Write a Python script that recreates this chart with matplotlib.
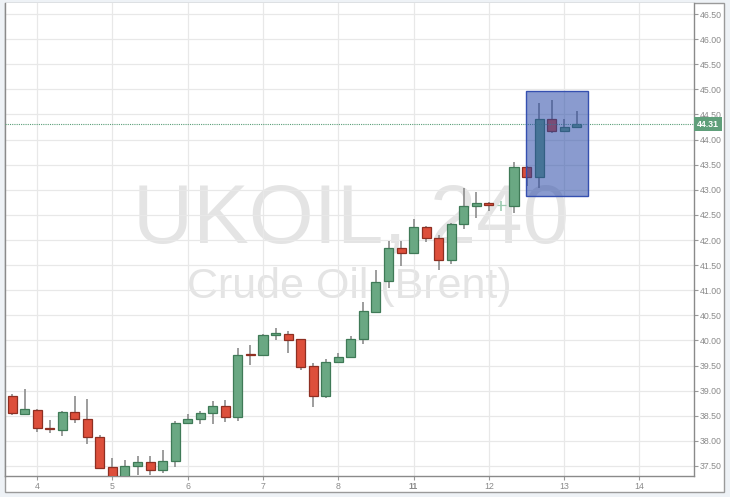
import matplotlib
matplotlib.use("Agg")
import matplotlib.pyplot as plt
import matplotlib.patches as mpatches
import matplotlib.transforms as mtrans
import numpy as np

# UKOIL 240-minute candles (index = candle number)
opens = [38.90, 38.53, 38.62, 38.25, 38.22, 38.57, 38.44, 38.07, 37.47, 37.28,
         37.49, 37.57, 37.42, 37.59, 38.36, 38.43, 38.55, 38.70, 38.47, 39.72,
         39.70, 40.10, 40.13, 40.02, 39.49, 38.89, 39.58, 39.66, 40.03, 40.57,
         41.18, 41.84, 41.75, 42.26, 42.03, 41.61, 42.32, 42.67, 42.73, 42.69,
         42.68, 43.46, 43.26, 44.40, 44.18, 44.26]
highs = [38.94, 39.03, 38.64, 38.41, 38.59, 38.89, 38.83, 38.11, 37.66, 37.62,
         37.69, 37.69, 37.81, 38.39, 38.53, 38.59, 38.80, 38.81, 39.84, 39.91,
         40.12, 40.24, 40.18, 40.03, 39.56, 39.63, 39.74, 40.08, 40.77, 41.40,
         41.98, 41.98, 42.42, 42.27, 42.10, 42.33, 43.03, 42.96, 42.75, 42.78,
         43.56, 43.47, 44.72, 44.79, 44.40, 44.57]
lows = [38.52, 38.52, 38.18, 38.16, 38.10, 38.36, 37.93, 37.45, 37.20, 37.20,
        37.32, 37.32, 37.35, 37.48, 38.33, 38.33, 38.33, 38.38, 38.40, 39.51,
        39.68, 40.01, 39.75, 39.42, 38.67, 38.85, 39.57, 39.65, 39.92, 40.55,
        41.05, 41.48, 41.74, 41.96, 41.40, 41.53, 42.21, 42.44, 42.58, 42.58,
        42.54, 43.07, 43.03, 44.14, 44.17, 44.25]
closes = [38.55, 38.63, 38.25, 38.23, 38.57, 38.43, 38.07, 37.45, 37.28, 37.49,
          37.57, 37.42, 37.59, 38.36, 38.43, 38.55, 38.70, 38.47, 39.71, 39.70,
          40.11, 40.14, 40.01, 39.48, 38.89, 39.58, 39.66, 40.03, 40.58, 41.17,
          41.84, 41.75, 42.26, 42.03, 41.61, 42.32, 42.67, 42.73, 42.69, 42.69,
          43.46, 43.26, 44.40, 44.18, 44.26, 44.31]

day_pos = [2, 8, 14, 20, 26, 32, 38, 44, 50]
day_labels = ["4", "5", "6", "7", "8", "11", "12", "13", "14"]
yticks = np.arange(37.5, 46.51, 0.5)
last_price = 44.31
box_x = (40.96, 45.92)
box_y = (42.88, 44.97)

W, H = 730, 497
fig = plt.figure(figsize=(W / 100, H / 100), dpi=100)
fig.patch.set_facecolor("#eef2f6")
plt.rcParams["font.family"] = ["Liberation Sans", "DejaVu Sans"]

# outer white frame
frame = mpatches.Rectangle((5 / W, 1 - 492 / H), 719 / W, 489 / H,
                           transform=fig.transFigure, facecolor="white",
                           edgecolor="#9a9a9a", lw=1.0, zorder=-5)
fig.patches.append(frame)

ax = fig.add_axes([5 / W, 1 - 476 / H, 688.7 / W, 473 / H])
ax.set_xlim(-0.56, 54.32)
ax.set_ylim(37.30, 46.72)
for s in ax.spines.values():
    s.set_color("#8a8a8a")
    s.set_linewidth(1.0)
ax.spines["top"].set_visible(False)

ax.set_axisbelow(True)
ax.grid(True, color="#e8e8e8", lw=0.9)

ax.yaxis.tick_right()
ax.set_yticks(yticks)
ax.set_yticklabels([f"{v:.2f}" for v in yticks])
ax.tick_params(axis="y", direction="out", length=3, width=0.8, color="#999999",
               labelsize=6.3, labelcolor="#8a8a8a", pad=1.5)
ax.set_xticks(day_pos)
ax.set_xticklabels(day_labels)
ax.tick_params(axis="x", direction="out", length=3, width=0.8, color="#999999",
               labelsize=6.3, labelcolor="#8a8a8a", pad=1.5)
for lab in ax.get_xticklabels():
    if lab.get_text() == "11":
        lab.set_fontweight("bold")

# watermark
ax.text(0.5024, 0.4947, "UKOIL, 240", transform=ax.transAxes, ha="center",
        va="baseline", fontsize=60, color="#e4e4e4", zorder=0.5)
ax.text(0.4995, 0.3763, "Crude Oil (Brent)", transform=ax.transAxes,
        ha="center", va="baseline", fontsize=31, color="#e4e4e4", zorder=0.5)

x = np.arange(len(opens))
o = np.array(opens)
c = np.array(closes)
up = c > o
flat = c == o
face = np.where(up, "#6aa883", "#dd4f3b")
edge = np.where(up, "#3f7a57", "#8e2f22")
face[flat] = "#9ccbb0"
edge[flat] = "#9ccbb0"
wick = np.where(flat, "#9ccbb0", "#8c8c8c")

ax.vlines(x, lows, highs, colors=wick, lw=1.2, zorder=2)
ax.bar(x, np.abs(c - o), bottom=np.minimum(o, c), width=0.72, color=face,
       edgecolor=edge, lw=0.9, zorder=3)

# current price line and label
ax.axhline(last_price, color="#5a9e78", ls=(0, (1, 1)), lw=0.8, zorder=3)
tr = mtrans.blended_transform_factory(ax.transAxes, ax.transData)
ax.text(1.0045, last_price, f"{last_price:.2f}", transform=tr, ha="left",
        va="center", color="white", fontsize=6.3, fontweight="bold",
        bbox=dict(facecolor="#5f9f7a", edgecolor="none", pad=2), zorder=5,
        clip_on=False)

# highlight box
ax.add_patch(mpatches.Rectangle((box_x[0], box_y[0]), box_x[1] - box_x[0],
                                box_y[1] - box_y[0], facecolor="#2a4aa8",
                                alpha=0.55, edgecolor="none", zorder=4))
ax.add_patch(mpatches.Rectangle((box_x[0], box_y[0]), box_x[1] - box_x[0],
                                box_y[1] - box_y[0], facecolor="none",
                                edgecolor="#3550b0", lw=1.0, zorder=4))

fig.savefig("out.png", dpi=100, facecolor=fig.get_facecolor())
